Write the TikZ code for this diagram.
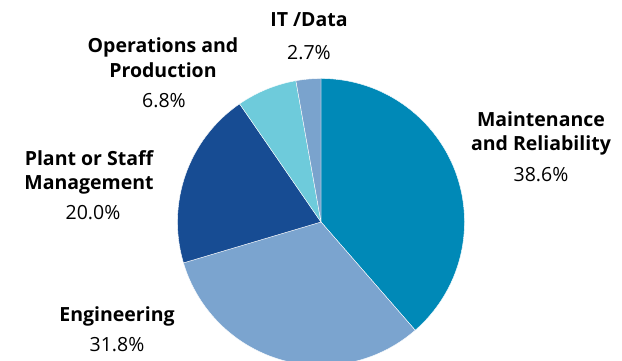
\documentclass[tikz,border=0pt]{standalone}
\usepackage{fontspec}
\setmainfont{Open Sans}
\usepackage{tikz}

\definecolor{maintblue}{HTML}{0089B7}
\definecolor{engblue}{HTML}{7BA4CF}
\definecolor{plantblue}{HTML}{174C93}
\definecolor{opsblue}{HTML}{6ECBDB}
\definecolor{itblue}{HTML}{7AA3CD}

\tikzset{
  catlabel/.style={font=\bfseries\fontsize{19.5}{24.5}\selectfont, align=center, anchor=base, inner sep=0pt},
  pctlabel/.style={font=\fontsize{19.5}{24.5}\selectfont, anchor=base, inner sep=0pt}
}

\begin{document}
\begin{tikzpicture}[x=1pt,y=1pt]
\useasboundingbox (0,0) rectangle (622,361);
\clip (0,0) rectangle (622,361);
\coordinate (pie) at (321,139);
\foreach \from/\to/\col in {90/-48.96/maintblue, -48.96/-163.44/engblue, -163.44/-235.44/plantblue, -235.44/-259.92/opsblue, -259.92/-270/itblue}
  \filldraw[fill=\col, draw=white, line width=0.4pt] (pie) -- ++(\from:143.5) arc[start angle=\from, end angle=\to, radius=143.5] -- cycle;

% two-line labels sit on the baseline of their last line
\node[catlabel] (maint) at (541,210) {Maintenance\\and Reliability};
\node[pctlabel] (maintpct) at (541,179) {38.6\%};
\node[catlabel] (eng) at (117,39) {Engineering};
\node[pctlabel] (engpct) at (117,9) {31.8\%};
\node[catlabel] (plant) at (89,171) {Plant or Staff\\Management};
\node[pctlabel] (plantpct) at (93,141) {20.0\%};
\node[catlabel] (ops) at (163,283.5) {Operations and\\Production};
\node[pctlabel] (opspct) at (164,253) {6.8\%};
\node[catlabel] (it) at (309,334) {IT /Data};
\node[pctlabel] (itpct) at (309,301) {2.7\%};
\end{tikzpicture}
\end{document}
